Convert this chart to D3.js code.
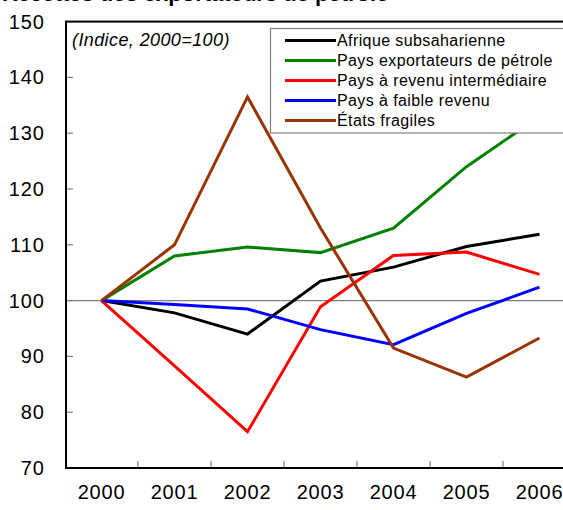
<!DOCTYPE html>
<html>
<head>
<meta charset="utf-8">
<script src="https://cdn.jsdelivr.net/npm/d3@7"></script>
<style>
  html, body { margin: 0; padding: 0; background: #fff; overflow: hidden; }
  svg { display: block; font-family: "Liberation Sans", Arial, sans-serif; }
</style>
</head>
<body>
<div id="chart"></div>
<script>
// ── Données ─────────────────────────────────────────────
const years = ['2000', '2001', '2002', '2003', '2004', '2005', '2006'];
const yTicks = [70, 80, 90, 100, 110, 120, 130, 140, 150];

const seriesNames = [
  'Afrique subsaharienne',
  'Pays exportateurs de pétrole',
  'Pays à revenu intermédiaire',
  'Pays à faible revenu',
  'États fragiles',
];
const seriesColors = ['#000000', '#008000', '#ff0000', '#0000ff', '#993300'];

const afrique       = [100, 97.8, 94.0, 103.5, 106.0, 109.7, 111.9];
const petrole       = [100, 108.0, 109.6, 108.6, 113.0, 124.0, 133.0];
const intermediaire = [100, 88.3, 76.5, 98.9, 108.1, 108.7, 104.7];
const faible        = [100, 99.3, 98.5, 94.8, 92.1, 97.7, 102.4];
const fragiles      = [100, 110.0, 136.5, 113.0, 91.5, 86.3, 93.3];

const seriesValues = [afrique, petrole, intermediaire, faible, fragiles];

// ── Mise en page ────────────────────────────────────────
const W = 563, H = 510;
const M = { left: 66, right: 576, top: 21.6, bottom: 468 };

const svg = d3.select('#chart').append('svg').attr('width', W).attr('height', H);

const x = d3.scaleBand().domain(years).range([M.left - 1, M.right]).padding(0);
const y = d3.scaleLinear().domain([70, 150]).range([M.bottom, M.top]);
const cx = d => x(d) + x.bandwidth() / 2;

// titre (coupé en haut de l'image, comme dans l'original)
svg.append('text')
  .attr('x', 2).attr('y', 1)
  .attr('font-size', 22).attr('font-weight', 'bold')
  .text('Recettes des exportateurs de pétrole');

// ligne de référence à 100
svg.append('line')
  .attr('x1', M.left).attr('x2', M.right)
  .attr('y1', y(100)).attr('y2', y(100))
  .attr('stroke', '#808080').attr('stroke-width', 1.2);

// graduations intérieures de l'axe Y
svg.append('g')
  .selectAll('line').data(yTicks.slice(1, -1)).join('line')
  .attr('x1', M.left).attr('x2', M.left + 7)
  .attr('y1', d => y(d)).attr('y2', d => y(d))
  .attr('stroke', '#808080').attr('stroke-width', 1.2);

// graduations de l'axe X (entre les catégories)
svg.append('g')
  .selectAll('line').data(years.slice(1)).join('line')
  .attr('x1', d => x(d)).attr('x2', d => x(d))
  .attr('y1', M.bottom).attr('y2', M.bottom - 7)
  .attr('stroke', '#808080').attr('stroke-width', 1.2);

// séries
const line = d3.line().x((d, i) => cx(years[i])).y(d => y(d));
svg.append('g')
  .selectAll('path').data(seriesValues).join('path')
  .attr('d', d => line(d))
  .attr('fill', 'none')
  .attr('stroke', (d, i) => seriesColors[i])
  .attr('stroke-width', 3)
  .attr('stroke-linejoin', 'miter');

// cadre du graphique
svg.append('rect')
  .attr('x', M.left).attr('y', M.top)
  .attr('width', M.right - M.left).attr('height', M.bottom - M.top)
  .attr('fill', 'none').attr('stroke', '#000').attr('stroke-width', 2);

// libellés Y
svg.append('g')
  .selectAll('text').data(yTicks).join('text')
  .attr('x', 45).attr('y', d => y(d))
  .attr('text-anchor', 'end').attr('dominant-baseline', 'central')
  .attr('font-size', 20).attr('letter-spacing', 1)
  .text(d => d);

// libellés X
svg.append('g')
  .selectAll('text').data(years).join('text')
  .attr('x', d => cx(d)).attr('y', 492)
  .attr('text-anchor', 'middle').attr('dominant-baseline', 'central')
  .attr('font-size', 20).attr('letter-spacing', 0.8)
  .text(d => d);

// note
svg.append('text')
  .attr('x', 72).attr('y', 46)
  .attr('font-size', 18).attr('font-style', 'italic').attr('letter-spacing', 0.4)
  .text('(Indice, 2000=100)');

// ── Légende ─────────────────────────────────────────────
const lg = svg.append('g');
lg.append('rect')
  .attr('x', 270.5).attr('y', 28.5)
  .attr('width', 320).attr('height', 104.5)
  .attr('fill', '#fff').attr('stroke', '#808080').attr('stroke-width', 1.2);

const rows = lg.selectAll('g').data(seriesNames).join('g')
  .attr('transform', (d, i) => `translate(0,${40.5 + i * 20})`);
rows.append('line')
  .attr('x1', 285).attr('x2', 336)
  .attr('stroke', (d, i) => seriesColors[i]).attr('stroke-width', 3);
rows.append('text')
  .attr('x', 337).attr('y', 0)
  .attr('dominant-baseline', 'central')
  .attr('font-size', 16).attr('letter-spacing', 0.4)
  .text(d => d);
</script>
</body>
</html>
